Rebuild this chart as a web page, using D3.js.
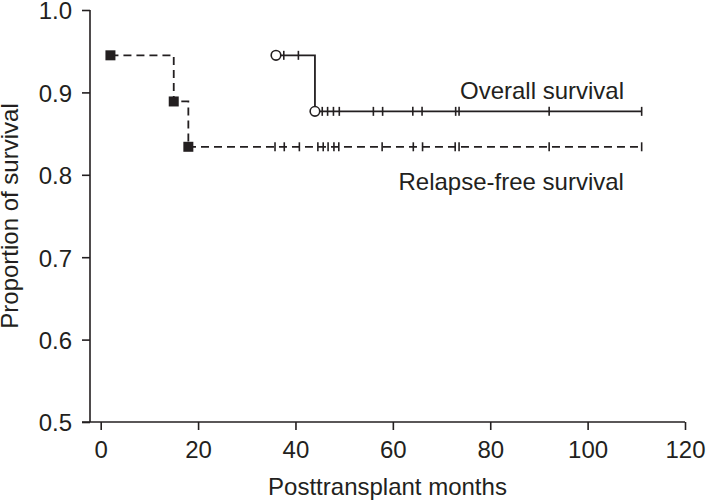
<!DOCTYPE html>
<html>
<head>
<meta charset="utf-8">
<script src="https://cdn.jsdelivr.net/npm/d3@7"></script>
<style>
  html, body { margin: 0; padding: 0; background: #ffffff; }
  svg { display: block; }
  text { font-family: "Liberation Sans", Arial, Helvetica, sans-serif; fill: #231f20; }
</style>
</head>
<body>
<svg id="chart" width="706" height="502"></svg>
<script>
// ---- data ----
const xTicks = [0, 20, 40, 60, 80, 100, 120];
const yTicks = [0.5, 0.6, 0.7, 0.8, 0.9, 1.0];
const xTitle = "Posttransplant months";
const yTitle = "Proportion of survival";

// Relapse-free survival (dashed, filled squares at events)
const rfsLabel = "Relapse-free survival";
const rfsEventTimes = [2, 15, 18];
const rfsEventSurv = [0.945, 0.889, 0.834];
const rfsLastTime = 111.1;
const rfsCensorTimes = [35.8, 37.7, 40.8, 44.6, 45.7, 46.7, 47.9, 48.9, 57.8, 64.2, 66.1, 72.8, 73.6, 92.1, 111.1];

// Overall survival (solid, open circles at events)
const osLabel = "Overall survival";
const osEventTimes = [36, 44];
const osEventSurv = [0.945, 0.877];
const osLastTime = 111.1;
const osCensorTimes = [37.6, 40.6, 45.5, 46.6, 47.8, 49.0, 56.0, 57.9, 64.1, 66.0, 72.9, 73.6, 92.1, 111.1];

// ---- layout ----
const ink = "#231f20";
const svg = d3.select("#chart");
const x = d3.scaleLinear().domain([0, 120]).range([100.7, 685]);
const y = d3.scaleLinear().domain([0.5, 1.0]).range([422, 10]);
const axisX0 = 82;   // left end of x axis line
const yAxisX = 90;   // position of y axis line

function stepPoints(times, surv, last) {
  const pts = times.map((t, i) => [t, surv[i]]);
  pts.push([last, surv[surv.length - 1]]);
  return pts;
}
function survAt(times, surv, t) {
  let s = surv[0];
  times.forEach((et, i) => { if (et <= t) s = surv[i]; });
  return s;
}
const line = d3.line().x(d => x(d[0])).y(d => y(d[1])).curve(d3.curveStepAfter);

// ---- axes ----
const gx = svg.append("g").attr("transform", `translate(0,${y(0.5)})`)
  .call(d3.axisBottom(x).tickValues(xTicks).tickFormat(d3.format("d")).tickSize(8).tickPadding(11));
gx.select(".domain").remove();
gx.append("line").attr("x1", axisX0).attr("x2", x(120)).attr("y1", 0).attr("y2", 0)
  .attr("stroke", ink).attr("stroke-width", 1.6);
gx.selectAll(".tick line").attr("stroke", ink).attr("stroke-width", 1.6);
gx.selectAll(".tick text").attr("font-size", 24).attr("fill", ink)
  .style("font-family", '"Liberation Sans", Arial, sans-serif');

const gy = svg.append("g").attr("transform", `translate(${yAxisX},0)`)
  .call(d3.axisLeft(y).tickValues(yTicks).tickFormat(d3.format(".1f")).tickSize(8).tickPadding(10));
gy.select(".domain").remove();
gy.append("line").attr("x1", 0).attr("x2", 0).attr("y1", y(1.0)).attr("y2", y(0.5))
  .attr("stroke", ink).attr("stroke-width", 1.6);
gy.selectAll(".tick line").attr("stroke", ink).attr("stroke-width", 1.6);
gy.selectAll(".tick text").attr("font-size", 24).attr("fill", ink).attr("dy", "0.37em")
  .style("font-family", '"Liberation Sans", Arial, sans-serif');

// axis titles
svg.append("text").attr("x", (axisX0 + x(120)) / 2 + 4).attr("y", 495)
  .attr("text-anchor", "middle").attr("font-size", 24).text(xTitle);
svg.append("text").attr("transform", `translate(18,${(y(1) + y(0.5)) / 2}) rotate(-90)`)
  .attr("text-anchor", "middle").attr("font-size", 24).text(yTitle);

// ---- curves ----
const rfsPts = stepPoints(rfsEventTimes, rfsEventSurv, rfsLastTime);
const osPts = stepPoints(osEventTimes, osEventSurv, osLastTime);

svg.append("path").attr("d", line(rfsPts)).attr("fill", "none")
  .attr("stroke", ink).attr("stroke-width", 1.8).attr("stroke-dasharray", "8,5");
svg.append("path").attr("d", line(osPts)).attr("fill", "none")
  .attr("stroke", ink).attr("stroke-width", 1.8);

// censor ticks
svg.append("g").selectAll("line").data(rfsCensorTimes).join("line")
  .attr("x1", d => x(d)).attr("x2", d => x(d))
  .attr("y1", d => y(survAt(rfsEventTimes, rfsEventSurv, d)) - 4.5)
  .attr("y2", d => y(survAt(rfsEventTimes, rfsEventSurv, d)) + 4.5)
  .attr("stroke", ink).attr("stroke-width", 1.6);
svg.append("g").selectAll("line").data(osCensorTimes).join("line")
  .attr("x1", d => x(d)).attr("x2", d => x(d))
  .attr("y1", d => y(survAt(osEventTimes, osEventSurv, d)) - 4.5)
  .attr("y2", d => y(survAt(osEventTimes, osEventSurv, d)) + 4.5)
  .attr("stroke", ink).attr("stroke-width", 1.6);

// event markers
const sq = 10;
svg.append("g").selectAll("rect").data(rfsEventTimes).join("rect")
  .attr("x", d => x(d) - sq / 2).attr("y", (d, i) => y(rfsEventSurv[i]) - sq / 2)
  .attr("width", sq).attr("height", sq).attr("fill", ink);
svg.append("g").selectAll("circle").data(osEventTimes).join("circle")
  .attr("cx", d => x(d)).attr("cy", (d, i) => y(osEventSurv[i])).attr("r", 4.8)
  .attr("fill", "#ffffff").attr("stroke", ink).attr("stroke-width", 1.6);

// curve labels
svg.append("text").attr("x", 460).attr("y", 98.5).attr("font-size", 24).text(osLabel);
svg.append("text").attr("x", 398.5).attr("y", 190).attr("font-size", 24).text(rfsLabel);
</script>
</body>
</html>
